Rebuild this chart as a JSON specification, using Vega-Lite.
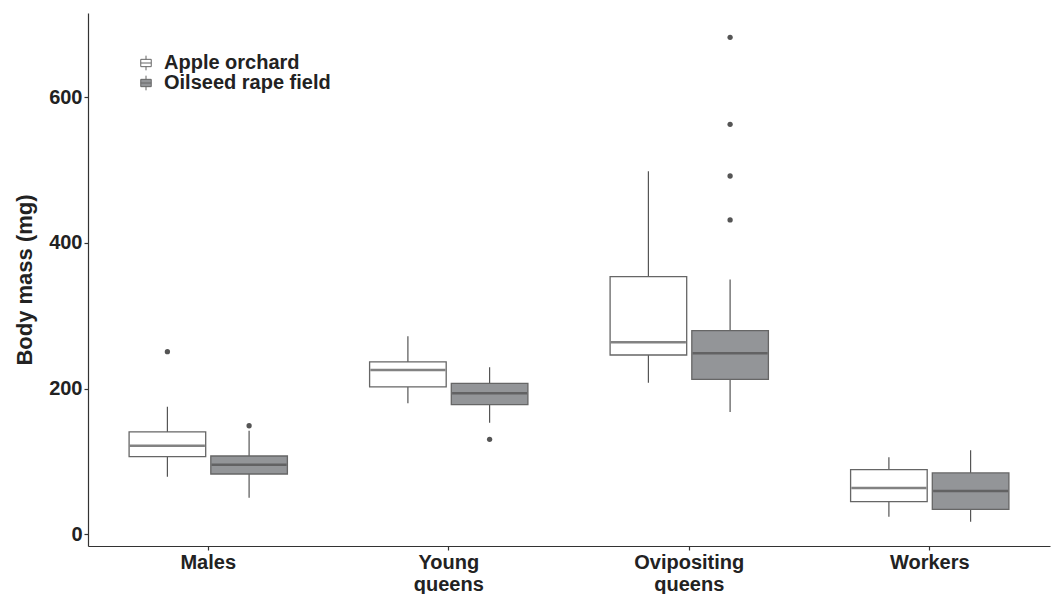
{
  "$schema": "https://vega.github.io/schema/vega-lite/v6.json",
  "autosize": "none",
  "padding": {"left": 88, "top": 13, "right": 6, "bottom": 48},
  "width": 962,
  "height": 533,
  "background": "white",
  "config": {
    "view": {"stroke": null},
    "font": "Liberation Sans",
    "axis": {"grid": false, "domainColor": "#333333", "tickColor": "#333333", "domainWidth": 1.2, "tickWidth": 1.2, "tickSize": 4, "labelFontSize": 20, "labelFontWeight": "bold", "labelColor": "#222222", "titleFontSize": 22, "titleFontWeight": "bold", "titleColor": "#222222"}
  },
  "datasets": {
    "boxes": [
      {"caste": "Males", "site": "Apple orchard", "lower": 79, "q1": 106.6, "median": 121.7, "q3": 140.5, "upper": 175},
      {"caste": "Males", "site": "Oilseed rape field", "lower": 50.3, "q1": 82.8, "median": 95.6, "q3": 107.5, "upper": 142},
      {"caste": "Young queens", "site": "Apple orchard", "lower": 180, "q1": 202.3, "median": 225.6, "q3": 236.6, "upper": 272},
      {"caste": "Young queens", "site": "Oilseed rape field", "lower": 153.2, "q1": 178, "median": 193.6, "q3": 207.3, "upper": 229.3},
      {"caste": "Ovipositing queens", "site": "Apple orchard", "lower": 208.2, "q1": 246.2, "median": 263.6, "q3": 353.7, "upper": 498.4},
      {"caste": "Ovipositing queens", "site": "Oilseed rape field", "lower": 168, "q1": 212.8, "median": 248.5, "q3": 279.6, "upper": 350},
      {"caste": "Workers", "site": "Apple orchard", "lower": 24.2, "q1": 44.8, "median": 63.6, "q3": 88.7, "upper": 105.7},
      {"caste": "Workers", "site": "Oilseed rape field", "lower": 17.3, "q1": 34.3, "median": 59.5, "q3": 84.2, "upper": 115.3}
    ],
    "outliers": [
      {"caste": "Males", "site": "Apple orchard", "mass": 250.7},
      {"caste": "Males", "site": "Oilseed rape field", "mass": 149},
      {"caste": "Young queens", "site": "Oilseed rape field", "mass": 130.4},
      {"caste": "Ovipositing queens", "site": "Oilseed rape field", "mass": 682.4},
      {"caste": "Ovipositing queens", "site": "Oilseed rape field", "mass": 563},
      {"caste": "Ovipositing queens", "site": "Oilseed rape field", "mass": 492},
      {"caste": "Ovipositing queens", "site": "Oilseed rape field", "mass": 431.6}
    ]
  },
  "encoding": {
    "x": {"field": "caste", "type": "nominal", "sort": ["Males", "Young queens", "Ovipositing queens", "Workers"],
      "scale": {"domain": ["Males", "Young queens", "Ovipositing queens", "Workers"], "paddingInner": 0, "paddingOuter": 0},
      "axis": {"title": null, "labelAngle": 0, "labelExpr": "split(datum.value, ' ')", "labelPadding": 2, "labelLineHeight": 22, "labelBaseline": "top"}},
    "xOffset": {"field": "site", "type": "nominal", "scale": {"domain": ["Apple orchard", "Oilseed rape field"], "paddingInner": 0.0625, "paddingOuter": 0.503}}
  },
  "layer": [
    {
      "data": {"name": "boxes"},
      "mark": {"type": "rule", "color": "#555555", "strokeWidth": 1.2},
      "encoding": {
        "y": {"field": "lower", "type": "quantitative", "scale": {"domain": [-16.1, 715.8], "nice": false, "zero": false},
          "axis": {"title": "Body mass (mg)", "values": [0, 200, 400, 600], "titlePadding": 12}},
        "y2": {"field": "upper"}
      }
    },
    {
      "data": {"name": "boxes"},
      "mark": {"type": "bar", "stroke": "#666666", "strokeWidth": 1.3},
      "encoding": {
        "y": {"field": "q1", "type": "quantitative"},
        "y2": {"field": "q3"},
        "fill": {"field": "site", "type": "nominal", "scale": {"domain": ["Apple orchard", "Oilseed rape field"], "range": ["#ffffff", "#939598"]},
          "legend": {"title": null, "orient": "none", "legendX": 48, "legendY": 40, "labelFontSize": 20, "labelFontWeight": "bold", "labelColor": "#222222", "labelLimit": 400, "symbolType": "M-1,-0.7H1V0.7H-1Z M-1,0H1 M0,-0.7V-1.4 M0,0.7V1.4", "symbolSize": 110, "symbolStrokeColor": "#666666", "symbolStrokeWidth": 1, "symbolOpacity": 1, "rowPadding": -3, "labelOffset": 8}}
      }
    },
    {
      "data": {"name": "boxes"},
      "mark": {"type": "tick", "color": "#4d4d4d", "size": 75, "thickness": 2.5, "orient": "horizontal"},
      "encoding": {
        "y": {"field": "median", "type": "quantitative"}
      }
    },
    {
      "data": {"name": "outliers"},
      "mark": {"type": "point", "filled": true, "color": "#555555", "size": 28, "opacity": 1},
      "encoding": {
        "y": {"field": "mass", "type": "quantitative"}
      }
    }
  ]
}
